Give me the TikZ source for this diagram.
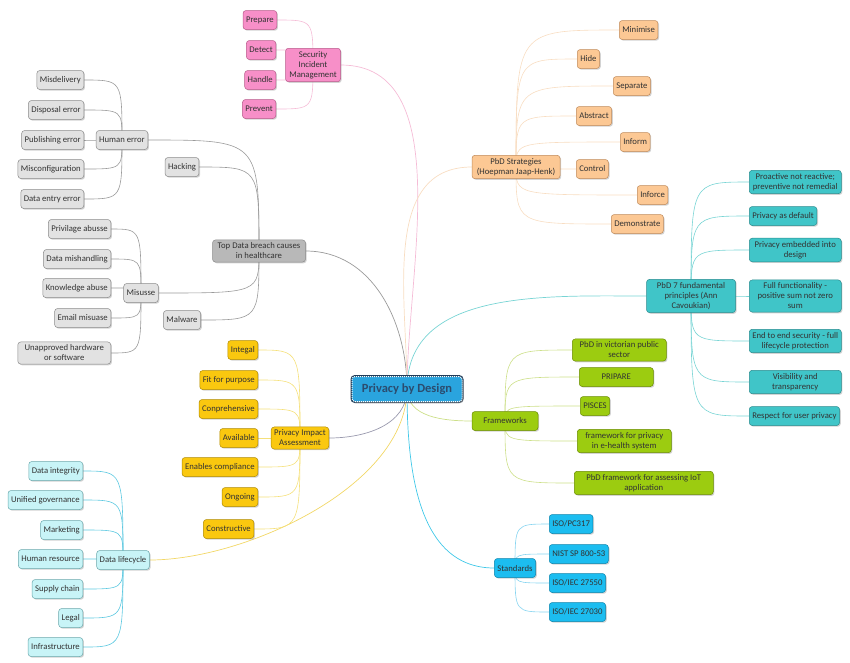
\documentclass[tikz,border=0pt]{standalone}
\usepackage{fontspec}
\setmainfont{Carlito}
\usetikzlibrary{shadows}
\pgfdeclarelayer{background}
\pgfsetlayers{background,main}
\definecolor{gyP}{HTML}{B8B8B8}
\definecolor{gyC}{HTML}{E2E2E2}
\definecolor{gyD}{HTML}{8A8A8A}
\definecolor{gyL}{HTML}{9A9A9A}
\definecolor{pkF}{HTML}{F78FC8}
\definecolor{pkD}{HTML}{B85A8A}
\definecolor{pkL}{HTML}{F5BCD6}
\definecolor{ywF}{HTML}{FAC80F}
\definecolor{ywD}{HTML}{B08A00}
\definecolor{ywL}{HTML}{F5E07A}
\definecolor{lcF}{HTML}{C8F4F7}
\definecolor{lcD}{HTML}{6AA8AC}
\definecolor{lcL}{HTML}{5CC8E0}
\definecolor{peF}{HTML}{FCC894}
\definecolor{peD}{HTML}{C08A5A}
\definecolor{peL}{HTML}{F8DDC2}
\definecolor{tlF}{HTML}{40C5C8}
\definecolor{tlD}{HTML}{2A8C8E}
\definecolor{tlL}{HTML}{78D4D4}
\definecolor{grF}{HTML}{9CCC10}
\definecolor{grD}{HTML}{6A8C00}
\definecolor{grL}{HTML}{CCDF88}
\definecolor{blF}{HTML}{1CBDF0}
\definecolor{blD}{HTML}{0A84AC}
\definecolor{blL}{HTML}{86D4F0}
\definecolor{ctF}{HTML}{2AA4DE}
\definecolor{ctT}{HTML}{2B4C6F}
\definecolor{txt}{HTML}{333333}
\definecolor{mPIA}{HTML}{9A9AAE}
\definecolor{mDL}{HTML}{F2D766}
\definecolor{mSTD}{HTML}{40C8E8}
\tikzset{
  box/.style={draw, line width=0.5pt, rounded corners=3pt, align=center,
    font=\fontsize{8.7}{10}\selectfont, text=txt, inner xsep=3pt, inner ysep=3pt,
    minimum height=19,
    drop shadow={shadow xshift=1.2pt, shadow yshift=-1.2pt, opacity=0.35}},
  greyp/.style={box, fill=gyP, draw=gyD},
  greyc/.style={box, fill=gyC, draw=gyD},
  pink/.style={box, fill=pkF, draw=pkD},
  yell/.style={box, fill=ywF, draw=ywD},
  lcyan/.style={box, fill=lcF, draw=lcD},
  peach/.style={box, fill=peF, draw=peD},
  teal/.style={box, fill=tlF, draw=tlD},
  green/.style={box, fill=grF, draw=grD},
  blue/.style={box, fill=blF, draw=blD},
  conn/.style={line width=0.6pt},
  mainc/.style={line width=0.7pt},
}
\begin{document}
\begin{tikzpicture}[x=1pt,y=-1pt]
\useasboundingbox (0,0) rectangle (850,662);

% centre
\node[draw=white, densely dotted, line width=1pt, fill=ctF, rounded corners=3pt,
  preaction={draw=ctT!80!black, solid, line width=3pt},
  drop shadow={shadow xshift=1.5pt, shadow yshift=-1.5pt, opacity=0.5},
  minimum width=110, minimum height=25, text=ctT,
  font=\bfseries\fontsize{12.5}{14}\selectfont] (c) at (407,389) {Privacy by Design};

% Security incident management
\node[pink, minimum width=55] (sim) at (313,65) {Security\\Incident\\Management};
\node[pink, anchor=east] (s1) at (277,20) {Prepare};
\node[pink, anchor=east] (s2) at (276,50) {Detect};
\node[pink, anchor=east] (s3) at (276,80) {Handle};
\node[pink, anchor=east] (s4) at (276,109) {Prevent};

% Top data breach causes
\node[greyp, minimum width=93] (tdb) at (259,251) {Top Data breach causes\\in healthcare};
\node[greyc] (hum) at (122,140) {Human error};
\node[greyc] (hack) at (182,167) {Hacking};
\node[greyc] (mis) at (141,293) {Misusse};
\node[greyc] (mal) at (182,320) {Malware};
\node[greyc, anchor=east] (h1) at (84,80) {Misdelivery};
\node[greyc, anchor=east] (h2) at (84,110) {Disposal error};
\node[greyc, anchor=east] (h3) at (84,140) {Publishing error};
\node[greyc, anchor=east] (h4) at (84,169) {Misconfiguration};
\node[greyc, anchor=east] (h5) at (84,199) {Data entry error};
\node[greyc, anchor=east] (m1) at (111,229) {Privilage abusse};
\node[greyc, anchor=east] (m2) at (111,259) {Data mishandling};
\node[greyc, anchor=east] (m3) at (111,288) {Knowledge abuse};
\node[greyc, anchor=east] (m4) at (111,318) {Email misuase};
\node[greyc, anchor=east, minimum width=93] (m5) at (111,353) {Unapproved hardware\\or software};

% Privacy impact assessment
\node[yell] (pia) at (300,438) {Privacy Impact\\Assessment};
\node[yell, anchor=east] (y1) at (258,350) {Integal};
\node[yell, anchor=east] (y2) at (258,380) {Fit for purpose};
\node[yell, anchor=east] (y3) at (258,409) {Conprehensive};
\node[yell, anchor=east] (y4) at (258,438) {Available};
\node[yell, anchor=east] (y5) at (258,467) {Enables compliance};
\node[yell, anchor=east] (y6) at (258,497) {Ongoing};
\node[yell, anchor=east] (y7) at (254,529) {Constructive};

% Data lifecycle
\node[lcyan] (dl) at (123,560) {Data lifecycle};
\node[lcyan, anchor=east] (d1) at (83,471) {Data integrity};
\node[lcyan, anchor=east] (d2) at (83,500) {Unified governance};
\node[lcyan, anchor=east] (d3) at (83,530) {Marketing};
\node[lcyan, anchor=east] (d4) at (83,559) {Human resource};
\node[lcyan, anchor=east] (d5) at (83,589) {Supply chain};
\node[lcyan, anchor=east] (d6) at (83,618) {Legal};
\node[lcyan, anchor=east] (d7) at (83,647) {Infrastructure};

% PbD strategies
\node[peach, minimum width=88] (pbs) at (516,167) {PbD Strategies\\(Hoepman Jaap-Henk)};
\node[peach, anchor=west] (p1) at (619,30) {Minimise};
\node[peach, anchor=west] (p2) at (577,59) {Hide};
\node[peach, anchor=west] (p3) at (613,86) {Separate};
\node[peach, anchor=west] (p4) at (576,116) {Abstract};
\node[peach, anchor=west] (p5) at (620,142) {Inform};
\node[peach, anchor=west] (p6) at (576,169) {Control};
\node[peach, anchor=west] (p7) at (637,195) {Inforce};
\node[peach, anchor=west] (p8) at (611,224) {Demonstrate};

% PbD 7 principles
\node[teal, minimum width=89] (p7f) at (691,296) {PbD 7 fundamental\\principles (Ann\\Cavoukian)};
\node[teal, anchor=west, minimum width=92, inner xsep=2pt] (t1) at (749,182) {Proactive not reactive;\\preventive not remedial};
\node[teal, anchor=west] (t2) at (749,216) {Privacy as default};
\node[teal, anchor=west, minimum width=92] (t3) at (749,250) {Privacy embedded into\\design};
\node[teal, anchor=west, minimum width=92] (t4) at (749,296) {Full functionality -\\positive sum not zero\\sum};
\node[teal, anchor=west, minimum width=92, inner xsep=2pt] (t5) at (749,341) {End to end security - full\\lifecycle protection};
\node[teal, anchor=west, minimum width=92] (t6) at (749,382) {Visibility and\\transparency};
\node[teal, anchor=west] (t7) at (749,416) {Respect for user privacy};

% Frameworks
\node[green, minimum width=66] (fw) at (505,421) {Frameworks};
\node[green, anchor=west, minimum width=94] (f1) at (572,350) {PbD in victorian public\\sector};
\node[green, anchor=west, minimum width=74] (f2) at (579,377) {PRIPARE};
\node[green, anchor=west] (f3) at (580,406) {PISCES};
\node[green, anchor=west, minimum width=94] (f4) at (577,441) {framework for privacy\\in e-health system};
\node[green, anchor=west, minimum width=139] (f5) at (574,483) {PbD framework for assessing IoT\\application};

% Standards
\node[blue] (std) at (515,568) {Standards};
\node[blue, anchor=west] (b1) at (549,524) {ISO/PC317};
\node[blue, anchor=west] (b2) at (549,554) {NIST SP 800-53};
\node[blue, anchor=west] (b3) at (549,583) {ISO/IEC 27550};
\node[blue, anchor=west] (b4) at (549,612) {ISO/IEC 27030};

\begin{pgfonlayer}{background}
% main branches
\draw[mainc, pkL] (sim.east) to[out=0, in=90, looseness=0.9] (c.center);
\draw[mainc, gyL] (tdb.east) to[out=0, in=90] (c.center);
\draw[mainc, mPIA] (pia.east) to[out=0, in=270] (c.center);
\draw[mainc, mDL] (dl.east) to[out=0, in=270, looseness=0.8] (c.center);
\draw[mainc, peL] (pbs.west) to[out=180, in=90] (c.center);
\draw[mainc, tlL] (p7f.west) to[out=180, in=90] (c.center);
\draw[mainc, grL] (fw.west) to[out=180, in=270] (c.center);
\draw[mainc, mSTD] (std.west) to[out=180, in=270] (c.center);
% left children
\foreach \p/\k/\col in {sim/s1/pkL, sim/s2/pkL, sim/s3/pkL, sim/s4/pkL,
  tdb/hum/gyL, tdb/hack/gyL, tdb/mis/gyL, tdb/mal/gyL,
  hum/h1/gyL, hum/h2/gyL, hum/h3/gyL, hum/h4/gyL, hum/h5/gyL,
  mis/m1/gyL, mis/m2/gyL, mis/m3/gyL, mis/m4/gyL, mis/m5/gyL,
  pia/y1/ywL, pia/y2/ywL, pia/y3/ywL, pia/y4/ywL, pia/y5/ywL, pia/y6/ywL, pia/y7/ywL,
  dl/d1/lcL, dl/d2/lcL, dl/d3/lcL, dl/d4/lcL, dl/d5/lcL, dl/d6/lcL, dl/d7/lcL}
  \draw[conn, \col] (\p.center) .. controls (\p.center |- \k.east) .. (\k.east);
% right children
\foreach \p/\k/\col in {pbs/p1/peL, pbs/p2/peL, pbs/p3/peL, pbs/p4/peL,
  pbs/p5/peL, pbs/p6/peL, pbs/p7/peL, pbs/p8/peL,
  p7f/t1/tlL, p7f/t2/tlL, p7f/t3/tlL, p7f/t4/tlL, p7f/t5/tlL, p7f/t6/tlL, p7f/t7/tlL,
  fw/f1/grL, fw/f2/grL, fw/f3/grL, fw/f4/grL, fw/f5/grL,
  std/b1/blL, std/b2/blL, std/b3/blL, std/b4/blL}
  \draw[conn, \col] (\p.center) .. controls (\p.center |- \k.west) .. (\k.west);
\end{pgfonlayer}
\end{tikzpicture}
\end{document}
